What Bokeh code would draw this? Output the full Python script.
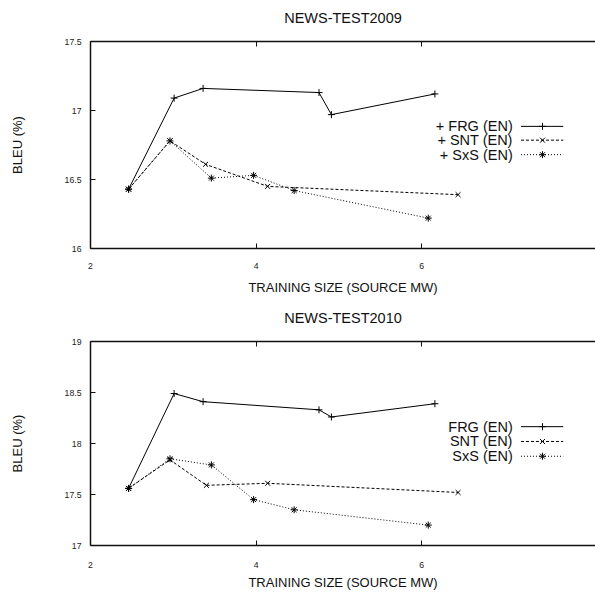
from bokeh.plotting import figure
from bokeh.layouts import column
from bokeh.models import LinearAxis, FixedTicker, Range1d
from bokeh.embed import file_html
from bokeh.resources import INLINE
from bokeh.core.properties import value

# ---------------- data ----------------
X_TICKS = [2, 4, 6]
X_TICK_LABELS = ["2", "4", "6"]

# NEWS-TEST2009
T09_FRG_X = [2.46, 3.01, 3.36, 4.76, 4.91, 6.16]
T09_FRG_Y = [16.43, 17.09, 17.16, 17.13, 16.97, 17.12]
T09_SNT_X = [2.46, 2.96, 3.39, 4.14, 6.44]
T09_SNT_Y = [16.43, 16.78, 16.61, 16.45, 16.39]
T09_SXS_X = [2.46, 2.96, 3.46, 3.97, 4.46, 6.08]
T09_SXS_Y = [16.43, 16.78, 16.51, 16.53, 16.42, 16.22]
T09_Y_TICKS = [16, 16.5, 17, 17.5]
T09_Y_TICK_LABELS = ["16", "16.5", "17", "17.5"]
T09_LEGEND = ["+ FRG (EN)", "+ SNT (EN)", "+ SxS (EN)"]

# NEWS-TEST2010
T10_FRG_X = [2.46, 3.01, 3.36, 4.76, 4.91, 6.16]
T10_FRG_Y = [17.56, 18.49, 18.41, 18.33, 18.26, 18.39]
T10_SNT_X = [2.46, 2.96, 3.40, 4.14, 6.44]
T10_SNT_Y = [17.56, 17.84, 17.59, 17.61, 17.52]
T10_SXS_X = [2.46, 2.96, 3.46, 3.97, 4.46, 6.08]
T10_SXS_Y = [17.56, 17.85, 17.79, 17.45, 17.35, 17.20]
T10_Y_TICKS = [17, 17.5, 18, 18.5, 19]
T10_Y_TICK_LABELS = ["17", "17.5", "18", "18.5", "19"]
T10_LEGEND = ["FRG (EN)", "SNT (EN)", "SxS (EN)"]

FONT = "Liberation Sans"
STYLES = [("solid", "cross"), ("3 2", "x"), ("1 2", "asterisk")]


def make(title, xs, ys, yr, yticks, ylabels, legend, legend_y, height,
         top_border, bottom_border, lab_standoff, axlab_standoff):
    p = figure(width=595, height=height, x_range=Range1d(2, 8.10),
               y_range=Range1d(*yr), output_backend="svg",
               toolbar_location=None, min_border_left=90, min_border_right=0,
               min_border_top=top_border, min_border_bottom=bottom_border)
    p.outline_line_color = None
    p.grid.visible = False

    xa = p.xaxis[0]
    xa.ticker = FixedTicker(ticks=X_TICKS)
    xa.major_label_overrides = {t: l for t, l in zip(X_TICKS, X_TICK_LABELS)}
    xa.axis_label = "TRAINING SIZE (SOURCE MW)"
    ya = p.yaxis[0]
    ya.ticker = FixedTicker(ticks=yticks)
    ya.major_label_overrides = {t: l for t, l in zip(yticks, ylabels)}
    ya.axis_label = "BLEU (%)"

    for ax in (xa, ya):
        ax.axis_line_width = 1.5
        ax.axis_line_color = "#111111"
        ax.major_tick_out = 0
        ax.major_tick_in = 5
        ax.major_tick_line_color = "#111111"
        ax.minor_tick_line_color = None
        ax.major_label_text_font = FONT
        ax.major_label_text_font_size = "8.7px"
        ax.major_label_text_color = "#222222"
        ax.axis_label_text_font = FONT
        ax.axis_label_text_font_size = "13px"
        ax.axis_label_text_font_style = "normal"
        ax.axis_label_text_color = "#111111"
    xa.major_label_standoff = lab_standoff
    xa.axis_label_standoff = axlab_standoff
    ya.major_label_standoff = 9
    ya.axis_label_standoff = 37

    # top border with mirrored ticks; its axis label serves as the title
    top = LinearAxis(ticker=FixedTicker(ticks=X_TICKS),
                     major_label_overrides={t: "" for t in X_TICKS},
                     major_tick_in=5, major_tick_out=0,
                     minor_tick_line_color=None,
                     major_tick_line_color="#111111",
                     axis_line_width=1.5, axis_line_color="#111111",
                     major_label_standoff=0,
                     axis_label=title, axis_label_standoff=16,
                     axis_label_text_font=FONT,
                     axis_label_text_font_size="14.5px",
                     axis_label_text_font_style="normal",
                     axis_label_text_color="#111111")
    p.add_layout(top, "above")

    for (sx, sy), (dash, marker) in zip(zip(xs, ys), STYLES):
        p.line(sx, sy, line_color="black", line_width=1, line_dash=dash)
        p.scatter(sx, sy, marker=marker, size=7, line_color="black",
                  line_width=1)

    # legend (text right-aligned, sample to the right)
    for lab, ly, (dash, marker) in zip(legend, legend_y, STYLES):
        p.text(x=[7.10], y=[ly], text=[lab], text_align="right",
               text_baseline="middle", text_font=value(FONT),
               text_font_size="14.5px", text_color="#111111")
        p.line([7.20, 7.71], [ly, ly], line_color="black", line_width=1,
               line_dash=dash)
        p.scatter([7.46], [ly], marker=marker, size=7, line_color="black",
                  line_width=1)
    return p


p1 = make("NEWS-TEST2009",
          [T09_FRG_X, T09_SNT_X, T09_SXS_X], [T09_FRG_Y, T09_SNT_Y, T09_SXS_Y],
          (16, 17.5), T09_Y_TICKS, T09_Y_TICK_LABELS, T09_LEGEND,
          [16.885, 16.785, 16.68], 300, 41, 52, 14, 8)
p2 = make("NEWS-TEST2010",
          [T10_FRG_X, T10_SNT_X, T10_SXS_X], [T10_FRG_Y, T10_SNT_Y, T10_SXS_Y],
          (17, 19), T10_Y_TICKS, T10_Y_TICK_LABELS, T10_LEGEND,
          [18.165, 18.02, 17.875], 292, 41, 45, 16, 4)

layout = column(p1, p2, spacing=0)
open("out.html", "w").write(file_html(layout, INLINE))
